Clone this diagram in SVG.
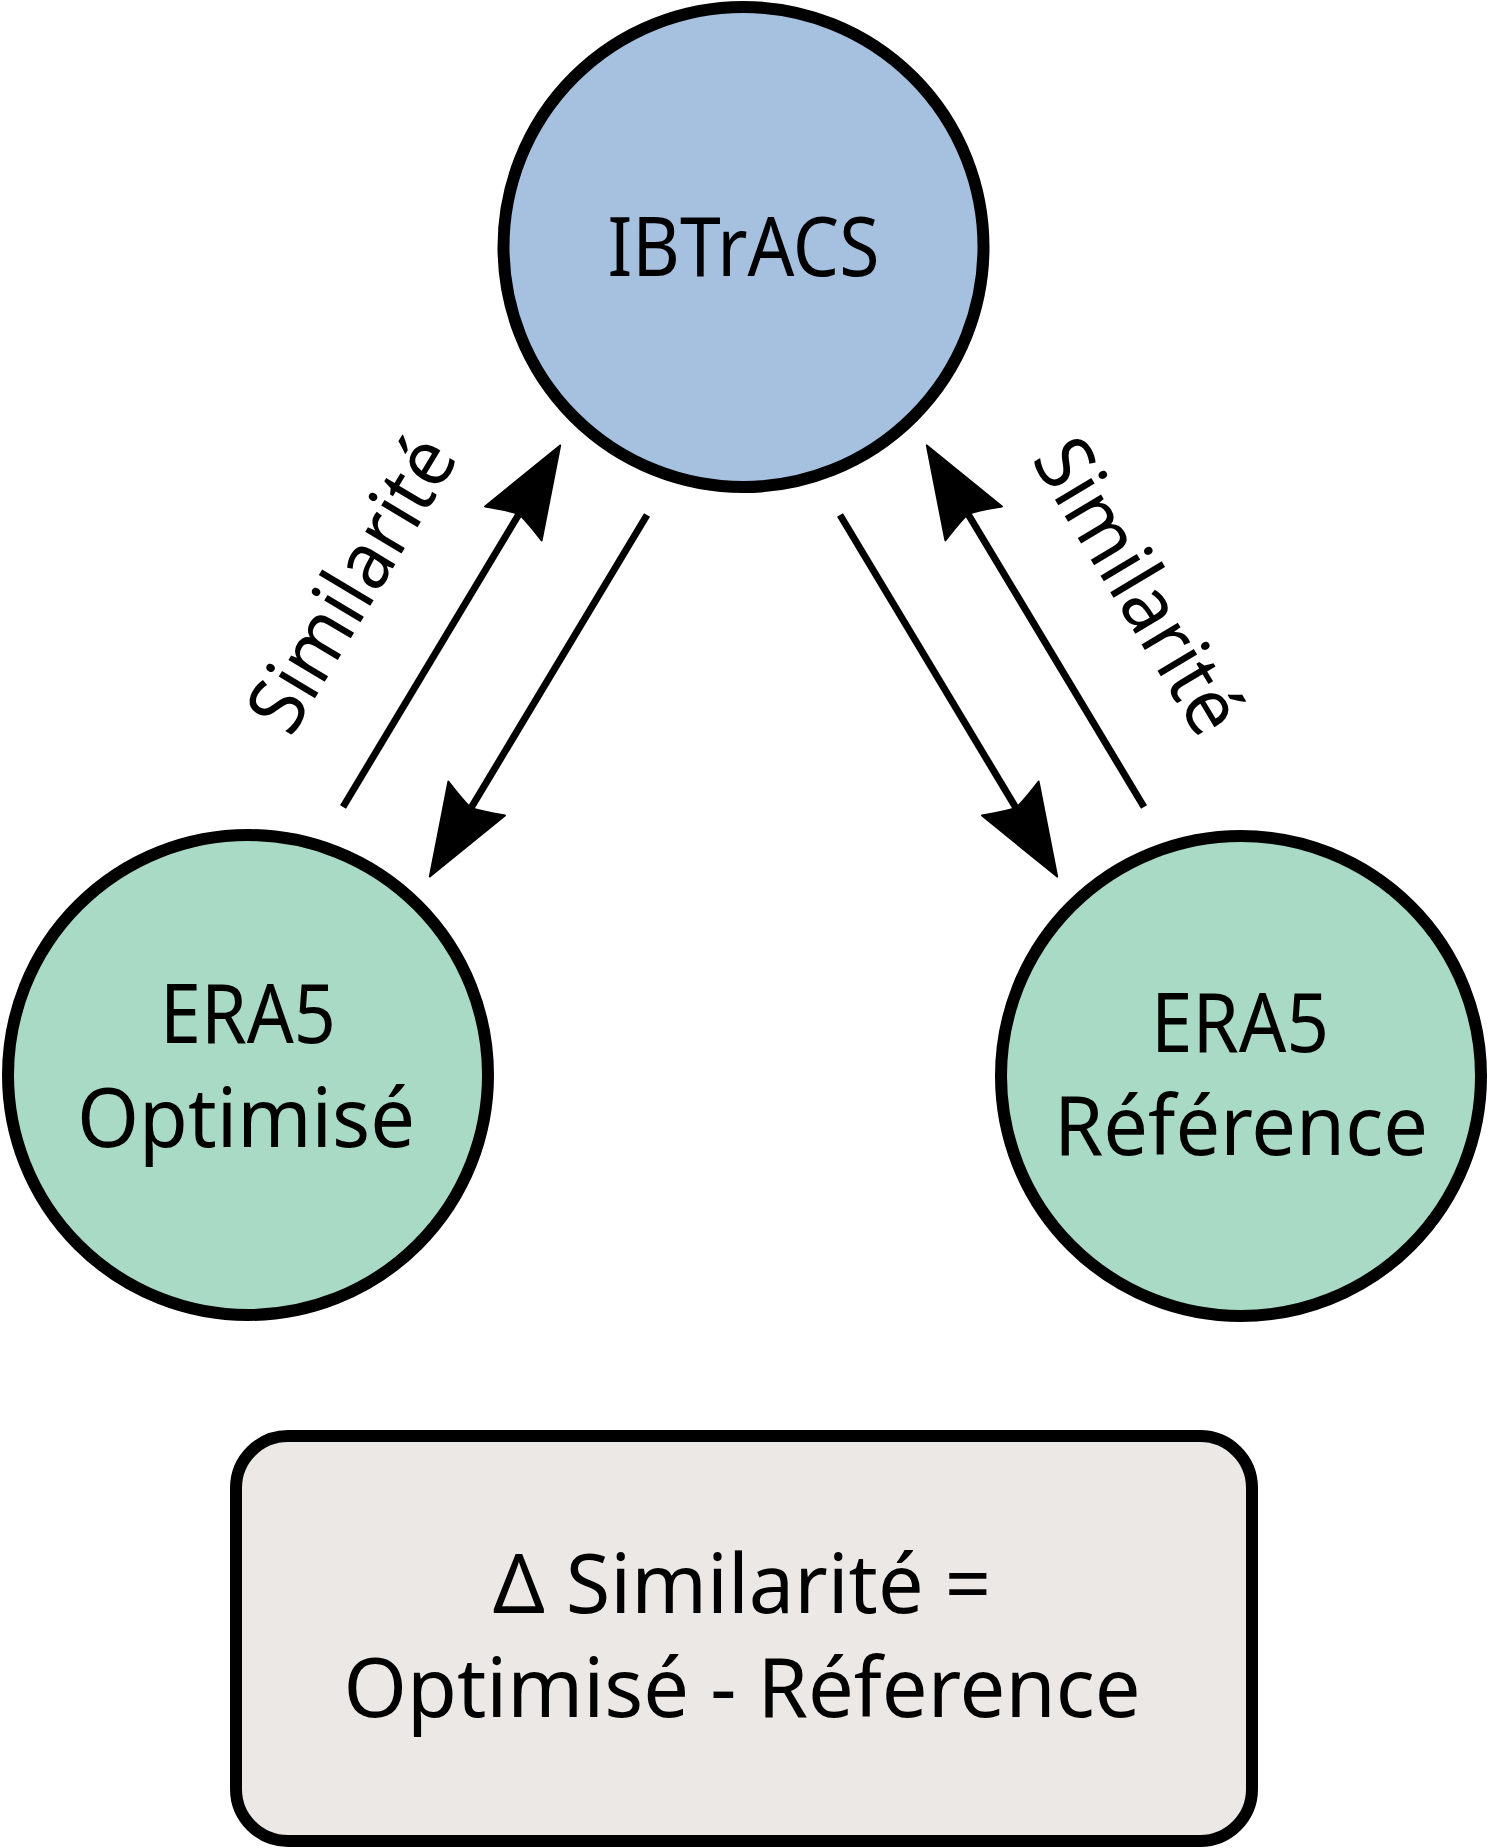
<svg xmlns="http://www.w3.org/2000/svg" width="1488" height="1848" viewBox="0 0 1488 1848">
<style>
.node{stroke:#000;stroke-width:12}
.blue{fill:#A6C0E0}
.green{fill:#A8DAC5}
.box{fill:#ECE8E5}
.t{font-family:"Noto Sans","Open Sans","DejaVu Sans",sans-serif;font-size:82px;fill:#000;text-anchor:middle}
.lbl{font-family:"Noto Sans","Open Sans","DejaVu Sans",sans-serif;font-size:79px;fill:#000;text-anchor:middle}
.edge{stroke:#000;stroke-width:7;fill:none;marker-end:url(#ah)}
</style>
<defs>
<marker id="ah" markerUnits="userSpaceOnUse" viewBox="-96 -36 98 72" markerWidth="98" markerHeight="72" refX="-80" refY="0" orient="auto">
<path d="M0,0 L-91,-33 Q-82,-10 -80,0 Q-82,10 -91,33 Z" fill="#000" stroke="#000" stroke-width="2" stroke-linejoin="round"/>
</marker>
</defs>
<rect width="1488" height="1848" fill="#fff"/>
<g id="connectors">
<path class="edge" d="M343,807 L519,514"/>
<path class="edge" d="M647,515 L471,808"/>
<path class="edge" d="M1144,807 L968,514"/>
<path class="edge" d="M840,515 L1016,808"/>
<text class="lbl" transform="translate(375,598) rotate(-59.06)" textLength="328" lengthAdjust="spacingAndGlyphs">Similarité</text>
<text class="lbl" transform="translate(1115,600) rotate(59.06)" textLength="328" lengthAdjust="spacingAndGlyphs">Similarité</text>
</g>
<g id="ibtracs">
<circle class="node blue" cx="743.5" cy="247" r="240"/>
<text class="t" x="743.5" y="276" textLength="272" lengthAdjust="spacingAndGlyphs">IBTrACS</text>
</g>
<g id="era5-optimise">
<circle class="node green" cx="248" cy="1075" r="240"/>
<text class="t" x="248" y="1043" textLength="176" lengthAdjust="spacingAndGlyphs">ERA5</text>
<text class="t" x="246" y="1147" textLength="338" lengthAdjust="spacingAndGlyphs">Optimisé</text>
</g>
<g id="era5-reference">
<circle class="node green" cx="1241" cy="1076" r="240"/>
<text class="t" x="1240" y="1052" textLength="178" lengthAdjust="spacingAndGlyphs">ERA5</text>
<text class="t" x="1241" y="1155" textLength="374" lengthAdjust="spacingAndGlyphs">Référence</text>
</g>
<g id="delta-box">
<rect class="node box" x="236" y="1436" width="1016" height="405" rx="52" ry="52"/>
<text class="t" x="742" y="1613" textLength="498" lengthAdjust="spacingAndGlyphs">Δ Similarité =</text>
<text class="t" x="742" y="1717" textLength="797" lengthAdjust="spacingAndGlyphs">Optimisé - Réference</text>
</g>
</svg>
